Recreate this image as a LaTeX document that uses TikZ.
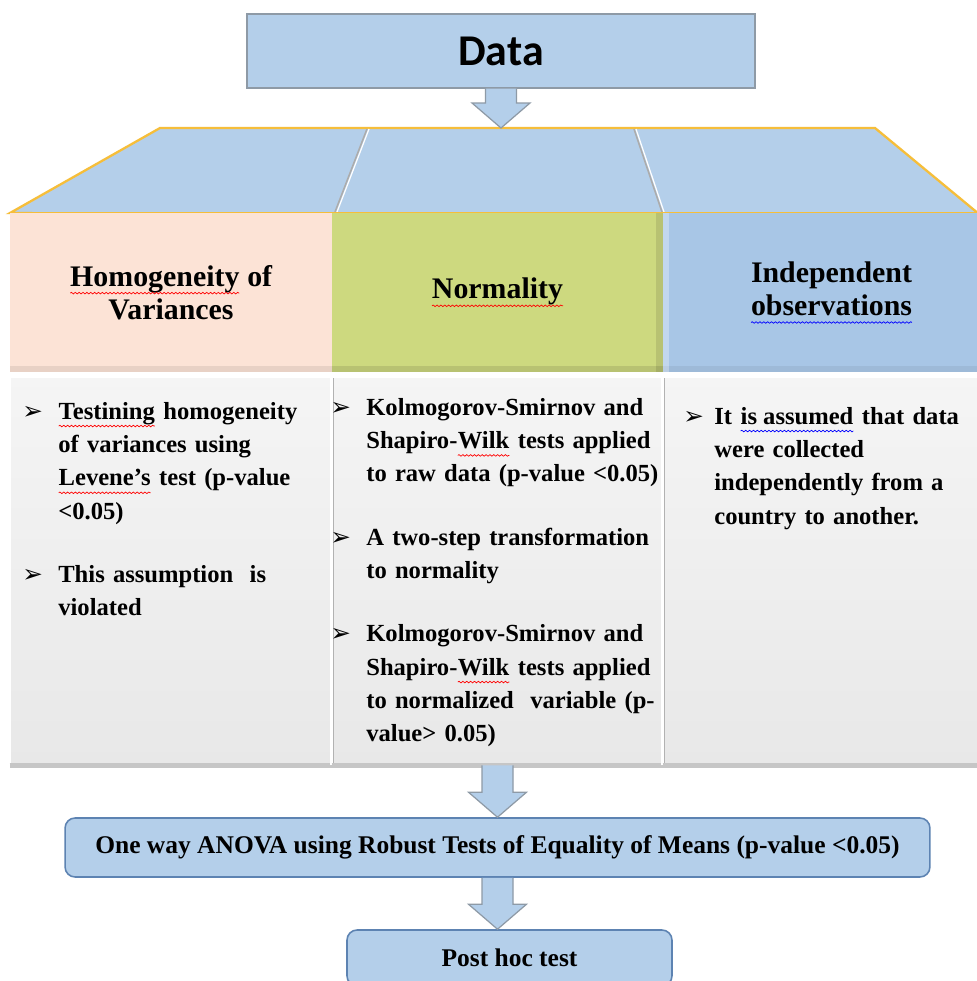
\documentclass[tikz,border=0pt]{standalone}
\usepackage{fontspec}
\setmainfont{Liberation Serif}
\newfontfamily\datafont{Carlito}
\newfontfamily\symf{DejaVu Sans}
\usetikzlibrary{calc,decorations.pathmorphing}

\definecolor{azulclaro}{HTML}{B4CFEA}
\definecolor{laranja}{HTML}{F6BE3A}
\definecolor{pessego}{HTML}{FCE3D6}
\definecolor{verdeoliva}{HTML}{CDD97F}
\definecolor{azulmedio}{HTML}{A8C6E6}
\definecolor{cinzaborda}{HTML}{8E9AA6}
\definecolor{azulborda}{HTML}{5D83B2}

\newcommand{\bul}[2][0.72cm]{\leftskip=#1\noindent\llap{\makebox[#1][l]{\symf\fontsize{14}{14}\selectfont ➢}}#2\par} %Item com seta
\newcommand{\squig}[2]{\tikz[baseline=0pt, x=1cm, y=1cm]{\node[inner sep=0pt, outer sep=0pt, minimum width=0pt, minimum height=0pt, fill=none, draw=none, anchor=base west] (palavra) at (0,0) {#2}; \draw[#1, line width=0.4pt, decorate, decoration={snake, amplitude=0.45pt, segment length=2.2pt}] ([yshift=-4pt]palavra.base west) -- ([yshift=-4pt]palavra.base east);}} %Sublinhado ondulado
\newcommand{\errv}[1]{\squig{red}{#1}}
\newcommand{\errb}[1]{\squig{blue}{#1}}
\newcommand{\flowarrow}[2]{%
	\fill[azulclaro] let \p1=(#1), \p2=(#2) in (\x1-0.31cm,\y1) -- (\x1-0.31cm,\y2+0.5cm) -- (\x1-0.58cm,\y2+0.5cm) -- (\x1,\y2) -- (\x1+0.58cm,\y2+0.5cm) -- (\x1+0.31cm,\y2+0.5cm) -- (\x1+0.31cm,\y1) -- cycle;
	\draw[cinzaborda, line width=0.7pt] let \p1=(#1), \p2=(#2) in (\x1-0.31cm,\y1) -- (\x1-0.31cm,\y2+0.5cm) -- (\x1-0.58cm,\y2+0.5cm) -- (\x1,\y2) -- (\x1+0.58cm,\y2+0.5cm) -- (\x1+0.31cm,\y2+0.5cm) -- (\x1+0.31cm,\y1);} %Seta larga

\begin{document}
\begin{tikzpicture}[x=0.02cm, y=-0.02cm,
		databox/.style={draw=cinzaborda, fill=azulclaro, line width=0.8pt, minimum width=10.16cm, minimum height=1.48cm, font=\datafont\bfseries\fontsize{25}{25}\selectfont},
		cabeca/.style={minimum height=3.18cm, inner sep=0pt, align=center, font=\bfseries\fontsize{17}{19}\selectfont},
		corpo/.style={minimum height=7.76cm, inner sep=0pt, top color=black!4, bottom color=black!9},
		texto/.style={anchor=base west, inner sep=0pt, align=left, font=\bfseries\fontsize{14}{19}\selectfont},
		caixa/.style={draw=azulborda, fill=azulclaro, line width=0.9pt, rounded corners=0.2cm, font=\bfseries\fontsize{14.5}{16}\selectfont}]
					\path[use as bounding box] (0,0) rectangle (977,981);
					\clip (0,0) rectangle (977,981);
					\fill[white] (0,0) rectangle (977,981); %Fundo
						%Topo
					\node[databox] (dados) at (501,51) {Data};
					\coordinate (topo) at (501,128);
					\draw[fill=azulclaro, draw=laranja, line width=1.3pt] (160,128) -- (875,128) -- (985,219) -- (10,213) -- cycle; %Trapezio
					\draw[gray!65, line width=0.9pt] (367,129) -- (335,212); %Divisoria esquerda
					\draw[white, line width=0.7pt] (369,129) -- (337,212);
					\draw[gray!65, line width=0.9pt] (634,129) -- (662,212); %Divisoria direita
					\draw[white, line width=0.7pt] (636,129) -- (664,212);
					\draw[laranja, line width=1.3pt] (10,213) -- (985,213);
					\flowarrow{dados.south}{topo}
						%Cabecalhos
					\node[cabeca, fill=pessego, minimum width=6.44cm] (cab1) at (171,292.5) {\errv{Homogeneity} of\\Variances};
					\node[cabeca, fill=verdeoliva, minimum width=6.62cm] (cab2) at (497.5,292.5) {\errv{Normality}};
					\node[cabeca, fill=azulmedio, minimum width=6.74cm] (cab3) at (831.5,292.5) {Independent\\\errb{observations}};
					\fill[black, opacity=0.08] ($(cab1.south west)+(0,-6)$) rectangle (cab1.south east); %Chanfros
					\fill[black, opacity=0.1] ($(cab2.south west)+(0,-6)$) rectangle (cab2.south east);
					\fill[black, opacity=0.1] ($(cab2.north east)+(-7,0)$) rectangle (cab2.south east);
					\fill[black, opacity=0.06] ($(cab3.south west)+(0,-6)$) rectangle (cab3.south east);
					\fill[white, opacity=0.3] (cab3.north west) rectangle ($(cab3.south west)+(6,0)$);
						%Corpos
					\node[corpo, minimum width=6.44cm] (corpo1) at (171,571) {};
					\node[corpo, minimum width=6.62cm] (corpo2) at (497.5,571) {};
					\node[corpo, minimum width=6.74cm] (corpo3) at (831.5,571) {};
					\foreach \c in {corpo1,corpo2,corpo3}{
						\draw[white, line width=1.5pt] (\c.south west) -- (\c.north west) -- (\c.north east);
						\draw[gray!45, line width=2.5pt] (\c.south west) -- (\c.south east);
						\draw[gray!60, line width=1.8pt] (\c.north east) -- (\c.south east);
					}
					\node[texto, text width=6.0cm] (txt1) at (22,419) {%
						\bul{\errv{Testining} homogeneity\\of variances using\\\errv{Levene's} test (p-value\\<0.05)}%
						\vspace{17pt}%
						\bul{This assumption\ \ is\\violated}};
					\node[texto, text width=6.7cm] (txt2) at (330,415) {%
						\bul{Kolmogorov-Smirnov and\\Shapiro-\errv{Wilk} tests applied\\to raw data (p-value <0.05)}%
						\vspace{17pt}%
						\bul{A two-step transformation\\to normality}%
						\vspace{17pt}%
						\bul{Kolmogorov-Smirnov and\\Shapiro-\errv{Wilk} tests applied\\to normalized\ \ variable (p-\\value> 0.05)}};
					\node[texto, text width=6.0cm] (txt3) at (683,424) {%
						\bul[0.62cm]{It \errb{is assumed} that data\\were collected\\independently from a\\country to another.}};
						%Base
					\node[caixa, minimum width=17.3cm, minimum height=1.18cm] (anova) at (497.5,847.5) {One way ANOVA using Robust Tests of Equality of Means (p-value <0.05)};
					\node[caixa, minimum width=6.5cm, minimum height=1.12cm] (posthoc) at (509.5,958) {Post hoc test};
					\flowarrow{corpo2.south}{anova.north}
					\flowarrow{anova.south}{posthoc.north}
				\end{tikzpicture}
\end{document}
